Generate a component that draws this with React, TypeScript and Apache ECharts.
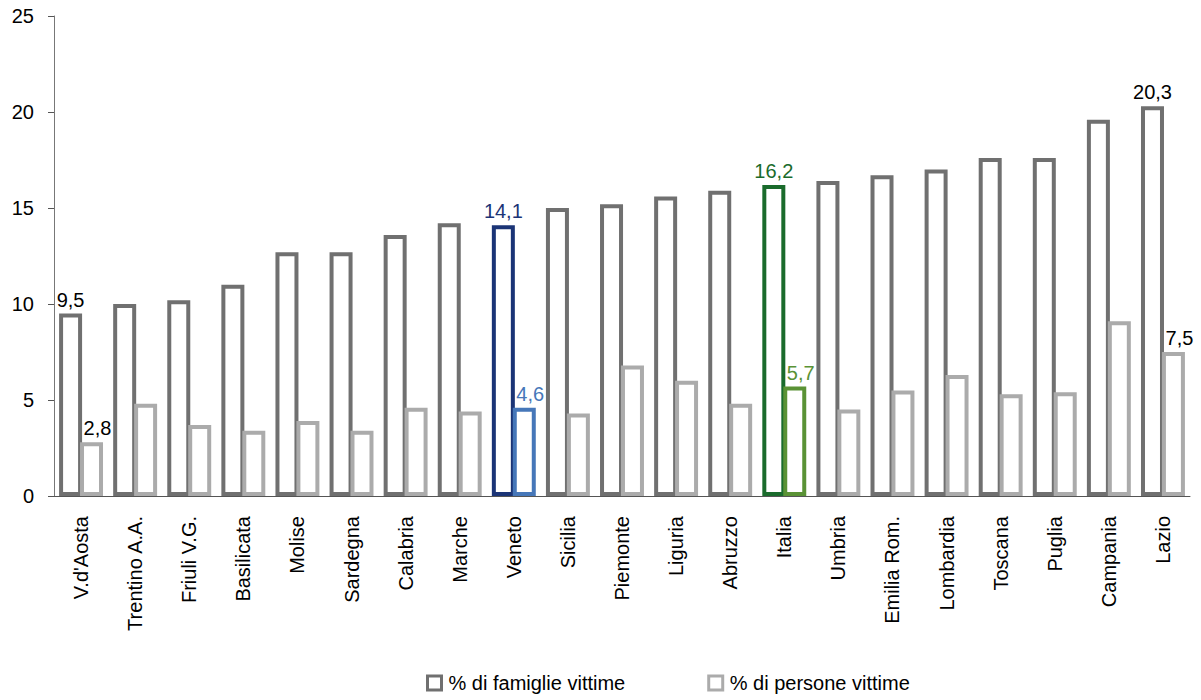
import React, { useEffect, useRef } from "react";
import * as echarts from "echarts";

const categories = [
  "V.d'Aosta", "Trentino A.A.", "Friuli V.G.", "Basilicata", "Molise", "Sardegna",
  "Calabria", "Marche", "Veneto", "Sicilia", "Piemonte", "Liguria", "Abruzzo",
  "Italia", "Umbria", "Emilia Rom.", "Lombardia", "Toscana", "Puglia", "Campania", "Lazio",
];
const famiglie = [9.5, 10.0, 10.2, 11.0, 12.7, 12.7, 13.6, 14.2, 14.1, 15.0, 15.2, 15.6, 15.9, 16.2, 16.4, 16.7, 17.0, 17.6, 17.6, 19.6, 20.3];
const persone = [2.8, 4.8, 3.7, 3.4, 3.9, 3.4, 4.6, 4.4, 4.6, 4.3, 6.8, 6.0, 4.8, 5.7, 4.5, 5.5, 6.3, 5.3, 5.4, 9.1, 7.5];
const yTicks = [0, 5, 10, 15, 20, 25];
const labelledCats = ["V.d'Aosta", "Veneto", "Italia", "Lazio"];

const DARK = "#707070";
const LIGHT = "#ababab";
const special: Record<string, [string, string]> = {
  Veneto: ["#1b3476", "#4677b9"],
  Italia: ["#1a6b2c", "#5a9235"],
};
const FONT = "'Liberation Sans', Arial, Helvetica, sans-serif";

export default function App() {
  const ref = useRef<HTMLDivElement>(null);
  useEffect(() => {
    if (!ref.current) return;
    const chart = echarts.init(ref.current, null, { renderer: "svg" });
    const mk = (vals: number[], idx: number) =>
      vals.map((v, i) => {
        const cat = categories[i];
        const sp = special[cat];
        const col = sp ? sp[idx] : idx === 0 ? DARK : LIGHT;
        const show = labelledCats.includes(cat);
        return {
          value: v,
          itemStyle: { color: "#ffffff", borderColor: col, borderWidth: 4 },
          label: {
            show,
            position: "top",
            distance: 4,
            offset: idx === 1 ? [6, 0] : [0, 0],
            color: sp ? col : "#000000",
            fontSize: 20,
            fontFamily: FONT,
            formatter: (p: any) => String(p.value).replace(".", ","),
          },
        };
      });
    chart.setOption({
      animation: false,
      textStyle: { fontFamily: FONT },
      grid: { left: 54, right: 11, top: 16, bottom: 204, containLabel: false },
      legend: {
        top: 673,
        left: 426,
        padding: 0,
        itemGap: 82,
        itemWidth: 14,
        itemHeight: 14,
        icon: "rect",
        textStyle: { fontSize: 20, color: "#000", fontFamily: FONT, padding: [0, 0, 0, 2] },
        data: [
          { name: "% di famiglie vittime", itemStyle: { color: "#fff", borderColor: DARK, borderWidth: 3 } },
          { name: "% di persone vittime", itemStyle: { color: "#fff", borderColor: LIGHT, borderWidth: 3 } },
        ],
      },
      xAxis: {
        type: "category",
        data: categories,
        axisLine: { show: true, lineStyle: { color: "#555", width: 1 } },
        axisTick: { show: false },
        axisLabel: { rotate: 90, interval: 0, margin: 20, fontSize: 20, color: "#000", fontFamily: FONT },
      },
      yAxis: {
        type: "value",
        min: yTicks[0],
        max: yTicks[yTicks.length - 1],
        interval: 5,
        axisLine: { show: true, lineStyle: { color: "#777", width: 1 } },
        axisTick: { show: true, length: 6, lineStyle: { color: "#555" } },
        splitLine: { show: false },
        axisLabel: { fontSize: 20, color: "#000", margin: 20, fontFamily: FONT },
      },
      series: [
        { name: "% di famiglie vittime", type: "bar", barWidth: 23, barGap: "-9%", data: mk(famiglie, 0) },
        { name: "% di persone vittime", type: "bar", barWidth: 23, barGap: "-9%", data: mk(persone, 1) },
      ],
    });
    return () => chart.dispose();
  }, []);
  return <div ref={ref} style={{ width: 1201, height: 700, position: "absolute", left: 0, top: 0 }} />;
}
